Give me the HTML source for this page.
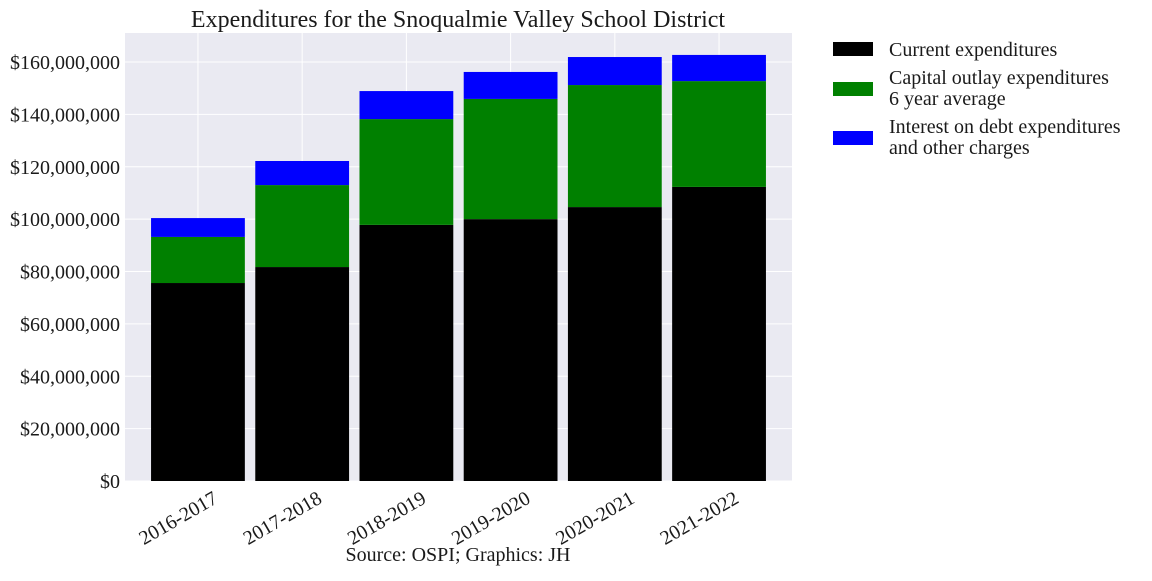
<!DOCTYPE html>
<html><head><meta charset="utf-8"><style>
body{margin:0;background:#fff;}
svg text{font-family:"Liberation Serif",serif;fill:#1a1a1a;}
</style></head><body>
<svg id="chart" width="1152" height="576">
<rect x="125" y="33" width="667" height="448" fill="#eaeaf2"/>
<g id="grid"></g><g id="bars"></g><g id="axes"></g>
<text x="458" y="27" font-size="24" text-anchor="middle">Expenditures for the Snoqualmie Valley School District</text>
<text x="458" y="561" font-size="20" text-anchor="middle">Source: OSPI; Graphics: JH</text>
<g>
<rect x="833" y="42" width="40" height="14" fill="#000"/>
<text x="889" y="56" font-size="20">Current expenditures</text>
<rect x="833" y="82" width="40" height="14" fill="#008000"/>
<text x="889" y="84" font-size="20">Capital outlay expenditures</text>
<text x="889" y="105" font-size="20">6 year average</text>
<rect x="833" y="131" width="40" height="14" fill="#0000ff"/>
<text x="889" y="133" font-size="20">Interest on debt expenditures</text>
<text x="889" y="154" font-size="20">and other charges</text>
</g>
</svg>
<script>
const categories=["2016-2017","2017-2018","2018-2019","2019-2020","2020-2021","2021-2022"];
const current=[75.6,81.7,97.8,100.0,104.6,112.3];
const capital=[17.6,31.3,40.4,45.9,46.6,40.4];
const interest=[7.2,9.2,10.7,10.3,10.7,10.0];
const yTicks=[0,20,40,60,80,100,120,140,160];
const NS="http://www.w3.org/2000/svg";
const X0=125,X1=792,Y0=481,Y160=62;
const xs=i=>X0+(i+0.7)*(X1-X0)/6.4;
const ys=v=>Y0-v*(Y0-Y160)/160;
const bw=0.9*(X1-X0)/6.4;
function mk(tag,attrs,parent){const e=document.createElementNS(NS,tag);for(const k in attrs)e.setAttribute(k,attrs[k]);document.getElementById(parent).appendChild(e);return e;}
yTicks.forEach(t=>{
 const l=mk('line',{x1:X0,x2:X1,y1:ys(t),y2:ys(t),stroke:'#fff','stroke-width':1},'grid');
 
 
 const tx=mk('text',{x:X0-5,y:ys(t)+7,'font-size':20,'text-anchor':'end'},'axes');
 tx.textContent=t===0?'$0':'$'+(t*1000000).toLocaleString('en-US');
 
 
});
categories.forEach((c,i)=>{
 const x=xs(i);
 const l=mk('line',{x1:x,x2:x,y1:33,y2:Y0,stroke:'#fff','stroke-width':1},'grid');
 
 
 let base=0;
 [[current,'#000','current'],[capital,'#008000','capital'],[interest,'#0000ff','interest']].forEach(([arr,col,nm])=>{
  const v=arr[i];
  const r=mk('rect',{x:x-bw/2,y:ys(base+v),width:bw,height:ys(base)-ys(base+v),fill:col},'bars');
  
  
  base+=v;
 });
 const tx=mk('text',{x:x+21,y:Y0+21,'font-size':20,'text-anchor':'end',transform:`rotate(-30 ${x+21} ${Y0+21})`},'axes');
 tx.textContent=c;
 
 
});
</script>
</body></html>
